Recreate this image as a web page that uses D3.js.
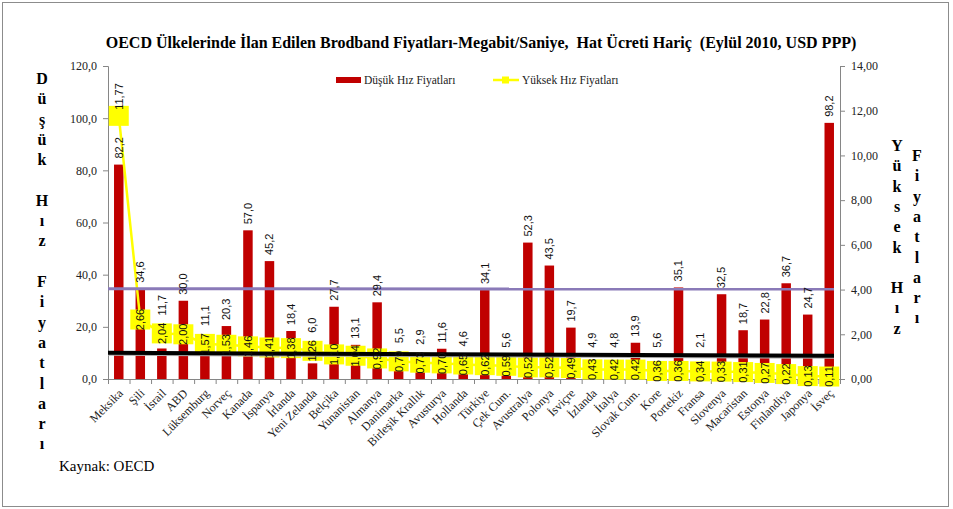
<!DOCTYPE html>
<html>
<head>
<meta charset="utf-8">
<script src="https://cdn.jsdelivr.net/npm/d3@7"></script>
<style>
  body { margin: 0; background: #fff; }
  svg text { white-space: pre; }
</style>
</head>
<body>
<svg id="chart" width="953" height="509"></svg>
<script>
// Chart data
const countries = ['Meksika', 'Şili', 'İsrail', 'ABD', 'Lüksemburg', 'Norveç', 'Kanada',
                   'İspanya', 'İrlanda', 'Yeni Zelanda', 'Belçika', 'Yunanistan', 'Almanya',
                   'Danimarka', 'Birleşik Krallık', 'Avusturya', 'Hollanda', 'Türkiye',
                   'Çek Cum.', 'Avustralya', 'Polonya', 'İsviçre', 'İzlanda', 'İtalya',
                   'Slovak Cum.', 'Kore', 'Portekiz', 'Fransa', 'Slovenya', 'Macaristan',
                   'Estonya', 'Finlandiya', 'Japonya', 'İsveç'];

// Düşük hız fiyatları (left axis)
const lowSpeed  = [82.2, 34.6, 11.7, 30.0, 11.1, 20.3, 57.0, 45.2, 18.4, 6.0, 27.7, 13.1, 29.4,
                   5.5, 2.9, 11.6, 4.6, 34.1, 5.6, 52.3, 43.5, 19.7, 4.9, 4.8, 13.9, 5.6,
                   35.1, 2.1, 32.5, 18.7, 22.8, 36.7, 24.7, 98.2];

// Yüksek hız fiyatları (right axis)
const highSpeed = [11.77, 2.66, 2.04, 2.00, 1.57, 1.53, 1.46, 1.41, 1.38, 1.26, 1.10, 1.04, 0.92,
                   0.79, 0.73, 0.70, 0.65, 0.62, 0.59, 0.52, 0.52, 0.49, 0.43, 0.42, 0.42, 0.36,
                   0.36, 0.34, 0.33, 0.31, 0.27, 0.22, 0.13, 0.11];

// Reference lines (right axis values at left and right end of the plot)
const purpleLine = [4.04, 4.02];
const blackLine  = [1.17, 1.04];

const leftTicks  = [0, 20, 40, 60, 80, 100, 120];
const rightTicks = [0, 2, 4, 6, 8, 10, 12, 14];

const titleText  = 'OECD Ülkelerinde İlan Edilen Brodband Fiyatları-Megabit/Saniye,  Hat Ücreti Hariç  (Eylül 2010, USD PPP)';
const leftTitle  = ['D','ü','ş','ü','k','','H','ı','z','','F','i','y','a','t','l','a','r','ı'];
const rightTitle1 = ['Y','ü','k','s','e','k','','H','ı','z'];
const rightTitle2 = ['F','i','y','a','t','l','a','r','ı'];
const legendNames = ['Düşük Hız Fiyatları', 'Yüksek Hız Fiyatları'];

// Layout
const plot  = {left: 108, right: 840, top: 66, bottom: 379};
const SERIF = '"Liberation Serif", "Times New Roman", serif';
const SANS  = '"Liberation Sans", Arial, sans-serif';
const commaFmt = (f) => (d) => d3.format(f)(d).replace('.', ',');

const svg = d3.select('#chart');

// Outer frame
svg.append('rect').attr('x', 2.5).attr('y', 2.5).attr('width', 946).attr('height', 504)
   .attr('fill', '#fff').attr('stroke', '#8c8c8c');

// Scales
const xScale = d3.scaleBand().domain(countries)
                 .range([plot.left, plot.right])
                 .paddingInner(0.56).paddingOuter(0.28);
const yLeft  = d3.scaleLinear().domain([0, 120]).range([plot.bottom, plot.top]);
const yRight = d3.scaleLinear().domain([0, 14]).range([plot.bottom, plot.top]);
const cx = (d) => xScale(d) + xScale.bandwidth() / 2;
const step = xScale.step();

// Axes
const axisColor = '#868686';
const gLeft = svg.append('g').attr('transform', `translate(${plot.left},0)`)
                 .call(d3.axisLeft(yLeft).tickValues(leftTicks).tickSize(5).tickPadding(6)
                         .tickFormat(commaFmt('.1f')));
const gRight = svg.append('g').attr('transform', `translate(${plot.right},0)`)
                  .call(d3.axisRight(yRight).tickValues(rightTicks).tickSize(5).tickPadding(6)
                          .tickFormat(commaFmt('.2f')));
[gLeft, gRight].forEach(g => {
    g.attr('font-family', SERIF).attr('font-size', 12);
    g.select('.domain').attr('stroke', axisColor);
    g.selectAll('.tick line').attr('stroke', axisColor);
    g.selectAll('.tick text').attr('fill', '#222');
});

// Category axis with ticks between the categories
const gX = svg.append('g');
gX.append('line').attr('x1', plot.left).attr('x2', plot.right)
  .attr('y1', plot.bottom + 0.5).attr('y2', plot.bottom + 0.5).attr('stroke', axisColor);
gX.selectAll('.xt').data(countries.concat(['end'])).enter().append('line')
  .attr('x1', (d, i) => plot.left + i * step + 0.5)
  .attr('x2', (d, i) => plot.left + i * step + 0.5)
  .attr('y1', plot.bottom).attr('y2', plot.bottom + 5).attr('stroke', axisColor);
gX.selectAll('.xl').data(countries).enter().append('text')
  .attr('font-family', SERIF).attr('font-size', 12).attr('fill', '#222')
  .attr('text-anchor', 'end')
  .attr('transform', d => `translate(${cx(d) + 5},${plot.bottom + 15}) rotate(-45)`)
  .text(d => d);

// Bars
svg.append('g').selectAll('rect').data(countries).enter().append('rect')
   .attr('x', d => xScale(d)).attr('width', xScale.bandwidth())
   .attr('y', (d, i) => yLeft(lowSpeed[i]))
   .attr('height', (d, i) => yLeft(0) - yLeft(lowSpeed[i]))
   .attr('fill', '#c00000');

// High speed line with its square markers
const line = d3.line().x((d, i) => cx(countries[i])).y(d => yRight(d));
svg.append('path').datum(highSpeed).attr('d', line)
   .attr('fill', 'none').attr('stroke', '#ffff00').attr('stroke-width', 2.5);
svg.append('g').selectAll('rect').data(highSpeed).enter().append('rect')
   .attr('x', (d, i) => cx(countries[i]) - 10).attr('y', d => yRight(d) - 10)
   .attr('width', 20).attr('height', 20).attr('fill', '#ffff00');

// Reference lines
const refX = [plot.left, plot.right - 6];
svg.append('line').attr('x1', refX[0]).attr('x2', refX[1])
   .attr('y1', yRight(purpleLine[0])).attr('y2', yRight(purpleLine[1]))
   .attr('stroke', '#8a7ab8').attr('stroke-width', 3);
svg.append('line').attr('x1', refX[0]).attr('x2', refX[1])
   .attr('y1', yRight(blackLine[0]) + 1.5).attr('y2', yRight(blackLine[1]) + 1.5)
   .attr('stroke', '#b0b0b0').attr('stroke-width', 3);
svg.append('line').attr('x1', refX[0]).attr('x2', refX[1])
   .attr('y1', yRight(blackLine[0])).attr('y2', yRight(blackLine[1]))
   .attr('stroke', '#000').attr('stroke-width', 4);

// Bar value labels, pushed above the yellow markers (and the black line) where they would collide
const blackTop = Math.min(yRight(blackLine[0]), yRight(blackLine[1])) - 5;
svg.append('g').selectAll('text').data(countries).enter().append('text')
   .attr('font-family', SANS).attr('font-size', 11).attr('fill', '#111')
   .attr('dy', '0.35em')
   .attr('transform', (d, i) => {
       let y = yLeft(lowSpeed[i]) - 6;
       let mark = yRight(highSpeed[i]);
       if (mark + 12 > y - 22 && mark - 14 < y) y = Math.min(mark - 18, blackTop);
       return `translate(${cx(d)},${y}) rotate(-90)`;
   })
   .text((d, i) => commaFmt('.1f')(lowSpeed[i]));

// High speed value labels
svg.append('g').selectAll('text').data(highSpeed).enter().append('text')
   .attr('font-family', SANS).attr('font-size', 11).attr('fill', '#111')
   .attr('dy', '0.35em')
   .attr('text-anchor', (d, i) => i === 0 ? 'start' : 'middle')
   .attr('transform', (d, i) => {
       let y = i === 0 ? yRight(d) - 6 : yRight(d);
       return `translate(${cx(countries[i])},${y}) rotate(-90)`;
   })
   .text(d => commaFmt('.2f')(d));

// Title
svg.append('text').attr('font-family', SERIF).attr('x', 481).attr('y', 48)
   .attr('text-anchor', 'middle').attr('font-size', 16).attr('font-weight', 'bold')
   .text(titleText);

// Vertical axis titles, one letter per line
function stackedTitle(letters, x, y0) {
    const t = svg.append('text').attr('font-family', SERIF).attr('font-size', 16)
                 .attr('font-weight', 'bold').attr('text-anchor', 'middle');
    letters.forEach((c, i) => {
        t.append('tspan').attr('x', x).attr('y', y0 + i * 20.3).text(c || ' ');
    });
}
stackedTitle(leftTitle, 42, 84);
stackedTitle(rightTitle1, 897, 151);
stackedTitle(rightTitle2, 917, 161);

// Legend
const lg = svg.append('g').attr('font-family', SERIF).attr('font-size', 11.5);
lg.append('rect').attr('x', 336).attr('y', 77).attr('width', 25).attr('height', 6).attr('fill', '#c00000');
lg.append('text').attr('x', 364).attr('y', 84).attr('fill', '#222').text(legendNames[0]);
lg.append('line').attr('x1', 493).attr('x2', 519).attr('y1', 80).attr('y2', 80)
  .attr('stroke', '#ffff00').attr('stroke-width', 2.5);
lg.append('rect').attr('x', 502).attr('y', 76.5).attr('width', 7).attr('height', 7).attr('fill', '#ffff00');
lg.append('text').attr('x', 522).attr('y', 84).attr('fill', '#222').text(legendNames[1]);

// Source
svg.append('text').attr('font-family', SERIF).attr('x', 59).attr('y', 471)
   .attr('font-size', 15).attr('fill', '#000').text('Kaynak: OECD');
</script>
</body>
</html>
